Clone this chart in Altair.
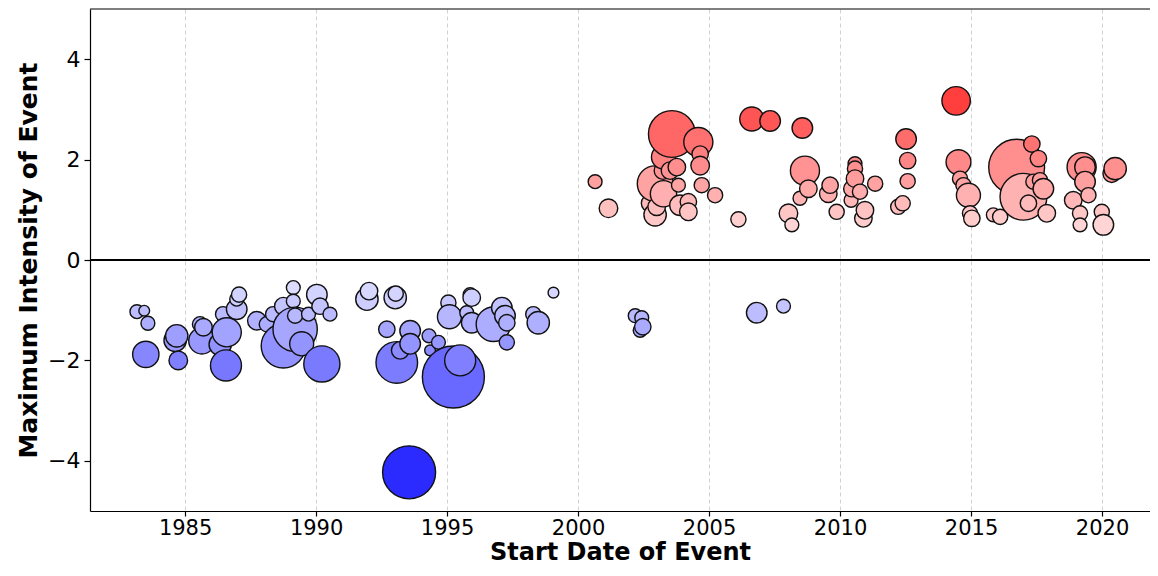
import altair as alt
import pandas as pd

# Start date of event (decimal year), maximum intensity, duration (days)
years = [
    1983.16, 1983.44, 1983.58, 1983.50, 1984.74, 1984.68, 1984.62, 1985.64, 1985.70, 1985.57,
    1986.56, 1986.59, 1986.97, 1987.06, 1986.97, 1986.45, 1986.34, 1987.74, 1988.12, 1988.75,
    1989.20, 1989.45, 1990.22, 1988.75, 1989.13, 1989.13, 1989.20, 1990.03, 1990.15, 1990.53,
    1989.71, 1988.36, 1991.94, 1992.02, 1993.02, 1993.04, 1992.70, 1993.59, 1993.08, 1993.21,
    1993.59, 1994.31, 1994.67, 1994.35, 1995.24, 1995.50, 1995.05, 1995.09, 1995.94, 1995.88,
    1995.94, 1995.75, 1996.77, 1997.09, 1997.21, 1997.28, 1997.28, 1998.48, 1998.29, 1999.06,
    2002.18, 2002.43, 2002.47, 2002.37, 2006.82, 2007.84, 1993.55,
    2000.65, 2001.16, 2003.58, 2004.59, 2003.26, 2002.94, 2003.26, 2003.24, 2003.51, 2003.77,
    2004.66, 2004.66, 2003.83, 2004.72, 2005.23, 2002.94, 2003.00, 2003.89, 2004.21, 2004.21,
    2002.75, 2006.12, 2006.63, 2007.33, 2008.56, 2008.66, 2008.79, 2008.47, 2008.03, 2008.16,
    2009.62, 2009.55, 2009.87, 2010.57, 2010.57, 2010.57, 2010.45, 2010.76, 2010.42, 2010.95,
    2010.89, 2011.34, 2012.52, 2012.58, 2012.58, 2012.22, 2012.39, 2014.43, 2014.52, 2014.58,
    2014.71, 2014.90, 2014.96, 2015.03, 2016.74, 2017.00, 2017.32, 2017.57, 2017.38, 2017.76,
    2017.63, 2017.19, 2017.89, 2015.85, 2016.11, 2019.22, 2019.35, 2019.35, 2019.48, 2018.90,
    2019.16, 2019.16, 2019.99, 2020.05, 2020.50, 2020.37,
]
intensity = [
    -1.03, -1.01, -1.26, -1.88, -2.00, -1.51, -1.60, -1.61, -1.34, -1.28,
    -2.10, -1.44, -0.98, -0.69, -0.78, -1.08, -1.68, -1.21, -1.28, -1.71,
    -1.38, -1.67, -2.07, -0.92, -0.55, -0.82, -1.11, -0.69, -0.92, -1.08,
    -1.08, -1.08, -0.78, -0.62, -0.75, -0.67, -1.38, -1.41, -2.04, -1.80,
    -1.67, -1.51, -1.64, -1.80, -2.33, -2.00, -0.85, -1.13, -0.75, -0.69,
    -1.25, -1.05, -1.28, -0.95, -1.11, -1.25, -1.64, -1.25, -1.08, -0.65,
    -1.11, -1.15, -1.33, -1.40, -1.05, -0.92, -4.23,
    1.56, 1.03, 2.51, 2.35, 2.05, 1.52, 1.32, 1.78, 1.78, 1.85,
    2.11, 1.88, 1.49, 1.49, 1.29, 0.90, 1.06, 1.09, 1.16, 0.96,
    1.13, 0.81, 2.81, 2.77, 2.63, 1.78, 1.42, 1.23, 0.93, 0.70,
    1.49, 1.32, 0.96, 1.92, 1.82, 1.62, 1.42, 1.36, 1.19, 0.99,
    0.83, 1.52, 2.41, 1.98, 1.57, 1.06, 1.13, 3.17, 1.95, 1.62,
    1.49, 1.29, 0.93, 0.83, 1.85, 1.26, 2.31, 2.02, 1.56, 1.42,
    1.59, 1.13, 0.93, 0.90, 0.86, 1.85, 1.85, 1.56, 1.29, 1.19,
    0.93, 0.70, 0.96, 0.70, 1.82, 1.72,
]
duration = [
    5, 3, 5, 18, 9, 13, 13, 18, 8, 6,
    25, 22, 11, 6, 5, 6, 13, 9, 6, 51,
    51, 15, 34, 8, 5, 5, 6, 11, 7, 5,
    5, 6, 13, 8, 13, 6, 7, 11, 45, 8,
    11, 5, 5, 3, 100, 25, 6, 15, 8, 5,
    11, 5, 31, 11, 11, 7, 6, 13, 6, 3,
    5, 5, 7, 5, 11, 5, 73,
    5, 9, 57, 22, 15, 33, 18, 8, 8, 8,
    7, 9, 5, 6, 6, 13, 8, 11, 7, 8,
    8, 6, 15, 11, 11, 22, 8, 5, 9, 5,
    7, 8, 6, 5, 6, 8, 7, 6, 5, 8,
    8, 6, 11, 7, 6, 6, 6, 21, 16, 6,
    6, 15, 6, 7, 81, 57, 7, 7, 6, 11,
    6, 7, 8, 5, 6, 22, 11, 11, 6, 8,
    6, 5, 6, 11, 13, 8,
]
x_ticks = [1985, 1990, 1995, 2000, 2005, 2010, 2015, 2020]
y_ticks = [-4, -2, 0, 2, 4]

df = pd.DataFrame({"year": years, "intensity": intensity, "duration": duration})
df = df.sort_values("year", kind="stable").reset_index(drop=True)

x_scale = alt.Scale(domain=[1981.37, 2021.83], nice=False, zero=False)
y_scale = alt.Scale(domain=[-5, 5], nice=False, zero=False)

points = alt.Chart(df).mark_point(
    filled=True, shape="circle", stroke="#111111", strokeWidth=1.4, opacity=1
).encode(
    x=alt.X("year:Q", scale=x_scale,
            axis=alt.Axis(values=x_ticks, format="d", title="Start Date of Event")),
    y=alt.Y("intensity:Q", scale=y_scale,
            axis=alt.Axis(values=y_ticks, format="d", title="Maximum Intensity of Event")),
    color=alt.Color("intensity:Q",
                    scale=alt.Scale(domain=[-3.3, 0, 3.3],
                                    range=["#2b2bff", "#ffffff", "#ff3636"],
                                    interpolate="rgb", clamp=True),
                    legend=None),
    size=alt.Size("duration:Q", scale=alt.Scale(domain=[0, 100], range=[0, 3848]),
                  legend=None),
)

one = pd.DataFrame({"a": [0]})
zero_line = alt.Chart(one).mark_rule(color="black", strokeWidth=2).encode(y=alt.datum(0))
top_line = alt.Chart(one).mark_rule(color="black", strokeWidth=1.2).encode(y=alt.value(0))

chart = alt.layer(zero_line, points, top_line).properties(
    width=1060,
    height=502,
    autosize=alt.AutoSizeParams(type="none"),
    padding={"left": 82, "top": 1, "right": 0, "bottom": 57},
).configure_view(
    stroke="transparent"
).configure_axis(
    labelFont="DejaVu Sans",
    labelFontSize=21,
    labelColor="black",
    labelPadding=1,
    titleFont="DejaVu Sans",
    titleFontSize=24,
    titleFontWeight="bold",
    titleColor="black",
    domainColor="black",
    domainWidth=1.2,
    tickColor="black",
    tickSize=5,
    tickWidth=1.2,
    gridColor="#cccccc",
    gridDash=[4, 3],
    gridWidth=0.9,
).configure_axisX(
    titlePadding=2,
).configure_axisY(
    labelPadding=4,
    labelFontSize=22,
    tickSize=6,
    titlePadding=6,
    titleFontSize=25,
)

chart.save("out.html", embed_options={"renderer": "svg", "actions": False})
